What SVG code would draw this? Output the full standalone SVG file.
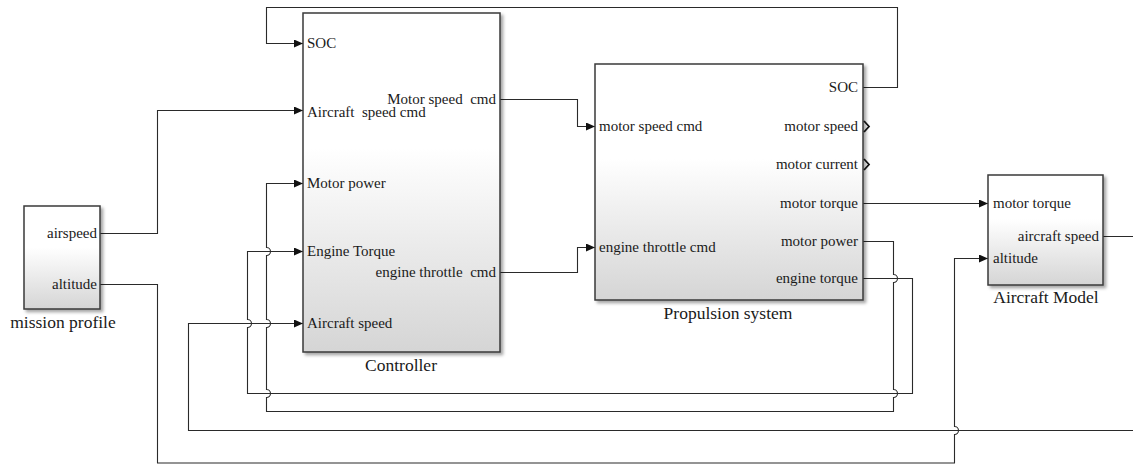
<svg xmlns="http://www.w3.org/2000/svg" width="1133" height="464" viewBox="0 0 1133 464">
<style>
.blk{fill:url(#grad);stroke:#3a3a3a;stroke-width:1.5;filter:url(#sh)}
.pl{font-family:"Liberation Serif","Times New Roman",serif;font-size:15px;fill:#1a1a1a}
.r{text-anchor:end}
.bl{font-family:"Liberation Serif","Times New Roman",serif;font-size:17.5px;fill:#1a1a1a;text-anchor:middle}
.c{fill:none;stroke:#2a2a2a;stroke-width:1.1}
.a{marker-end:url(#arr)}
.chev{fill:none;stroke:#111;stroke-width:1.8}
</style>
<defs>
<linearGradient id="grad" x1="0" y1="0" x2="0" y2="1">
<stop offset="0" stop-color="#ffffff"/>
<stop offset="0.4" stop-color="#ffffff"/>
<stop offset="1" stop-color="#d5d5d5"/>
</linearGradient>
<filter id="sh" x="-10%" y="-10%" width="130%" height="130%">
<feDropShadow dx="2.5" dy="2.5" stdDeviation="1.5" flood-color="#000" flood-opacity="0.35"/>
</filter>
<marker id="arr" viewBox="0 0 9 8" refX="9" refY="4" markerWidth="9" markerHeight="8" markerUnits="userSpaceOnUse" orient="auto">
<path d="M0,0 L9,4 L0,8 z" fill="#111"/>
</marker>
</defs>

<g id="connectors">
<path class="c a" d="M863,87.5 H897.5 V7.5 H266.5 V43.5 H303"/>
<path class="c a" d="M100,233.5 H157.5 V110.5 H303"/>
<path class="c a" d="M100,284.5 H157.5 V463 H954.5 V434.5 A4,4 0 0 0 954.5,426.5 V258.5 H988"/>
<path class="c a" d="M500,99.5 H577.5 V126.5 H595"/>
<path class="c a" d="M500,272.5 H577.5 V247.5 H595"/>
<path class="c a" d="M863,203.5 H988"/>
<path class="c a" d="M863,241.5 H893.5 V274.5 A4,4 0 0 1 893.5,282.5 V389.5 A4,4 0 0 1 893.5,397.5 V411.5 H266.5 V397.5 A4,4 0 0 0 266.5,389.5 V327.5 A4,4 0 0 0 266.5,319.5 V255.5 A4,4 0 0 0 266.5,247.5 V183.5 H303"/>
<path class="c a" d="M863,278.5 H912.5 V393.5 H247.5 V327.5 A4,4 0 0 0 247.5,319.5 V251.5 H303"/>
<path class="c a" d="M1103,236.5 H1145 V430.5 H188.5 V323.5 H303"/>
</g>

<g id="mission_profile">
<rect class="blk" x="24" y="206" width="76" height="103"/>
<text class="pl r" x="97" y="238">airspeed</text>
<text class="pl r" x="97" y="289">altitude</text>
<text class="bl" x="63" y="328">mission profile</text>
</g>

<g id="controller">
<rect class="blk" x="303" y="13" width="197" height="339"/>
<text class="pl" x="307" y="48">SOC</text>
<text class="pl" x="307" y="117" xml:space="preserve">Aircraft  speed cmd</text>
<text class="pl" x="307" y="188">Motor power</text>
<text class="pl" x="307" y="256">Engine Torque</text>
<text class="pl" x="307" y="328">Aircraft speed</text>
<text class="pl r" x="496" y="104" xml:space="preserve">Motor speed  cmd</text>
<text class="pl r" x="496" y="277" xml:space="preserve">engine throttle  cmd</text>
<text class="bl" x="401" y="371">Controller</text>
</g>

<g id="propulsion_system">
<rect class="blk" x="595" y="64" width="268" height="236"/>
<text class="pl" x="599" y="131">motor speed cmd</text>
<text class="pl" x="599" y="252">engine throttle cmd</text>
<text class="pl r" x="858" y="92">SOC</text>
<text class="pl r" x="858" y="131">motor speed</text>
<text class="pl r" x="858" y="169">motor current</text>
<text class="pl r" x="858" y="208">motor torque</text>
<text class="pl r" x="858" y="246">motor power</text>
<text class="pl r" x="858" y="283">engine torque</text>
<path class="chev" d="M864,121 L869,126.5 L864,132"/>
<path class="chev" d="M864,159 L869,164.5 L864,170"/>
<text class="bl" x="728" y="319">Propulsion system</text>
</g>

<g id="aircraft_model">
<rect class="blk" x="988" y="175" width="115" height="110"/>
<text class="pl" x="993" y="208">motor torque</text>
<text class="pl" x="993" y="263">altitude</text>
<text class="pl r" x="1099" y="241">aircraft speed</text>
<text class="bl" x="1046" y="303">Aircraft Model</text>
</g>
</svg>
